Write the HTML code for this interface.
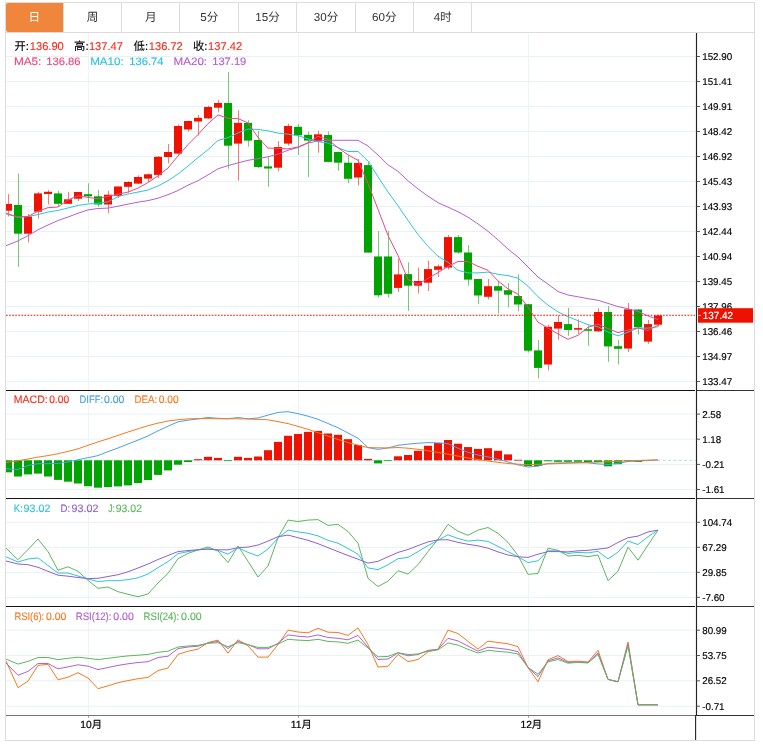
<!DOCTYPE html>
<html lang="zh"><head><meta charset="utf-8"><title>K线图</title>
<style>html,body{margin:0;padding:0;background:#fff}body{width:763px;height:754px;overflow:hidden;position:relative;font-family:"Liberation Sans","Noto Sans CJK SC",sans-serif}svg{position:absolute;left:0;top:0;display:block}text{font-family:"Liberation Sans","Noto Sans CJK SC",sans-serif;text-rendering:geometricPrecision}</style></head><body>
<svg width="763" height="754" viewBox="0 0 763 754">
<defs><clipPath id="cp"><rect x="6" y="33" width="690" height="683"/></clipPath></defs>
<rect x="5.5" y="2.5" width="749" height="738" fill="#fff" stroke="#dcdcdc" stroke-width="1"/>
<path d="M6 56.5H696M6 81.5H696M6 106.5H696M6 131.5H696M6 156.5H696M6 181.5H696M6 206.5H696M6 231.5H696M6 256.5H696M6 281.5H696M6 306.5H696M6 331.5H696M6 356.5H696M6 381.5H696M6 414.1H696M6 439.2H696M6 464.4H696M6 489.5H696M6 522.3H696M6 547.3H696M6 572.3H696M6 597.3H696M6 630.2H696M6 655.5H696M6 680.8H696M6 706.2H696" stroke="#e8f1f6" stroke-width="1" fill="none"/>
<path d="M88.5 33V715M298.5 33V715M528.5 33V715" stroke="#edf4f8" stroke-width="1" fill="none"/>
<path d="M5.5 32.5H754.5" stroke="#dcdcdc" stroke-width="1"/>
<path d="M8 3H63V32H8Q6 32 6 30V5Q6 3 8 3Z" fill="#f0863c"/>
<path d="M63.5 3V32M121.5 3V32M179.5 3V32M238.5 3V32M296.5 3V32M355.5 3V32M413.5 3V32M471.5 3V32" stroke="#dcdcdc" stroke-width="1"/>
<text x="34.2" y="21" font-size="11.6" text-anchor="middle" fill="#fff">日</text>
<text x="92.6" y="21" font-size="11.6" text-anchor="middle" fill="#333">周</text>
<text x="150.9" y="21" font-size="11.6" text-anchor="middle" fill="#333">月</text>
<text x="209.3" y="21" font-size="11.6" text-anchor="middle" fill="#333">5分</text>
<text x="267.6" y="21" font-size="11.6" text-anchor="middle" fill="#333">15分</text>
<text x="326.0" y="21" font-size="11.6" text-anchor="middle" fill="#333">30分</text>
<text x="384.3" y="21" font-size="11.6" text-anchor="middle" fill="#333">60分</text>
<text x="442.7" y="21" font-size="11.6" text-anchor="middle" fill="#333">4时</text>
<g clip-path="url(#cp)">
<path d="M8.5 194.0V216.5" stroke="#f01200" stroke-width="1" opacity="0.55"/>
<rect x="4.0" y="204.0" width="8" height="6.7" fill="#f01200"/>
<path d="M18.5 173.5V267.0" stroke="#00a400" stroke-width="1" opacity="0.55"/>
<rect x="14.0" y="205.0" width="8" height="28.7" fill="#00a400"/>
<path d="M28.5 214.0V242.5" stroke="#f01200" stroke-width="1" opacity="0.55"/>
<rect x="24.0" y="216.5" width="8" height="17.2" fill="#f01200"/>
<path d="M38.5 191.8V218.6" stroke="#f01200" stroke-width="1" opacity="0.55"/>
<rect x="34.0" y="193.4" width="8" height="18.3" fill="#f01200"/>
<path d="M48.5 190.0V204.5" stroke="#f01200" stroke-width="1" opacity="0.55"/>
<rect x="44.0" y="191.8" width="8" height="2.2" fill="#f01200"/>
<path d="M58.5 190.8V206.7" stroke="#00a400" stroke-width="1" opacity="0.55"/>
<rect x="54.0" y="193.4" width="8" height="10.4" fill="#00a400"/>
<path d="M68.5 191.8V203.8" stroke="#f01200" stroke-width="1" opacity="0.55"/>
<rect x="64.0" y="199.3" width="8" height="4.5" fill="#f01200"/>
<path d="M78.5 192.0V201.0" stroke="#f01200" stroke-width="1" opacity="0.55"/>
<rect x="74.0" y="192.0" width="8" height="6.7" fill="#f01200"/>
<path d="M88.5 183.3V202.4" stroke="#00a400" stroke-width="1" opacity="0.55"/>
<rect x="84.0" y="194.2" width="8" height="2.1" fill="#00a400"/>
<path d="M98.5 190.0V206.7" stroke="#00a400" stroke-width="1" opacity="0.55"/>
<rect x="94.0" y="196.3" width="8" height="8.2" fill="#00a400"/>
<path d="M108.5 190.8V213.3" stroke="#f01200" stroke-width="1" opacity="0.55"/>
<rect x="104.0" y="194.7" width="8" height="9.8" fill="#f01200"/>
<path d="M118.5 186.5V198.0" stroke="#f01200" stroke-width="1" opacity="0.55"/>
<rect x="114.0" y="186.5" width="8" height="9.3" fill="#f01200"/>
<path d="M128.5 181.2V192.6" stroke="#f01200" stroke-width="1" opacity="0.55"/>
<rect x="124.0" y="182.0" width="8" height="4.8" fill="#f01200"/>
<path d="M138.5 175.4V184.0" stroke="#f01200" stroke-width="1" opacity="0.55"/>
<rect x="134.0" y="177.0" width="8" height="6.6" fill="#f01200"/>
<path d="M148.5 173.5V182.0" stroke="#f01200" stroke-width="1" opacity="0.55"/>
<rect x="144.0" y="174.3" width="8" height="4.3" fill="#f01200"/>
<path d="M158.5 156.0V178.0" stroke="#f01200" stroke-width="1" opacity="0.55"/>
<rect x="154.0" y="156.8" width="8" height="18.1" fill="#f01200"/>
<path d="M168.5 144.0V163.4" stroke="#f01200" stroke-width="1" opacity="0.55"/>
<rect x="164.0" y="152.0" width="8" height="5.0" fill="#f01200"/>
<path d="M178.5 124.5V154.7" stroke="#f01200" stroke-width="1" opacity="0.55"/>
<rect x="174.0" y="126.0" width="8" height="27.6" fill="#f01200"/>
<path d="M188.5 120.5V131.6" stroke="#f01200" stroke-width="1" opacity="0.55"/>
<rect x="184.0" y="121.0" width="8" height="8.5" fill="#f01200"/>
<path d="M198.5 115.0V135.6" stroke="#f01200" stroke-width="1" opacity="0.55"/>
<rect x="194.0" y="117.8" width="8" height="3.7" fill="#f01200"/>
<path d="M208.5 105.6V119.0" stroke="#f01200" stroke-width="1" opacity="0.55"/>
<rect x="204.0" y="107.0" width="8" height="11.4" fill="#f01200"/>
<path d="M218.5 99.8V112.3" stroke="#f01200" stroke-width="1" opacity="0.55"/>
<rect x="214.0" y="103.0" width="8" height="4.7" fill="#f01200"/>
<path d="M228.5 72.0V168.8" stroke="#00a400" stroke-width="1" opacity="0.55"/>
<rect x="224.0" y="103.0" width="8" height="42.7" fill="#00a400"/>
<path d="M238.5 110.2V180.7" stroke="#f01200" stroke-width="1" opacity="0.55"/>
<rect x="234.0" y="122.9" width="8" height="20.7" fill="#f01200"/>
<path d="M248.5 120.2V146.7" stroke="#00a400" stroke-width="1" opacity="0.55"/>
<rect x="244.0" y="122.9" width="8" height="17.7" fill="#00a400"/>
<path d="M258.5 131.0V168.2" stroke="#00a400" stroke-width="1" opacity="0.55"/>
<rect x="254.0" y="140.0" width="8" height="27.0" fill="#00a400"/>
<path d="M268.5 156.8V186.8" stroke="#00a400" stroke-width="1" opacity="0.55"/>
<rect x="264.0" y="166.4" width="8" height="2.1" fill="#00a400"/>
<path d="M278.5 141.0V171.4" stroke="#f01200" stroke-width="1" opacity="0.55"/>
<rect x="274.0" y="147.0" width="8" height="20.7" fill="#f01200"/>
<path d="M288.5 123.7V145.7" stroke="#f01200" stroke-width="1" opacity="0.55"/>
<rect x="284.0" y="126.0" width="8" height="17.6" fill="#f01200"/>
<path d="M298.5 124.2V155.0" stroke="#00a400" stroke-width="1" opacity="0.55"/>
<rect x="294.0" y="126.8" width="8" height="8.5" fill="#00a400"/>
<path d="M308.5 131.6V177.2" stroke="#00a400" stroke-width="1" opacity="0.55"/>
<rect x="304.0" y="134.8" width="8" height="5.8" fill="#00a400"/>
<path d="M318.5 130.8V152.8" stroke="#f01200" stroke-width="1" opacity="0.55"/>
<rect x="314.0" y="134.3" width="8" height="7.1" fill="#f01200"/>
<path d="M328.5 131.6V162.4" stroke="#00a400" stroke-width="1" opacity="0.55"/>
<rect x="324.0" y="135.0" width="8" height="26.9" fill="#00a400"/>
<path d="M338.5 151.5V170.9" stroke="#00a400" stroke-width="1" opacity="0.55"/>
<rect x="334.0" y="152.0" width="8" height="10.7" fill="#00a400"/>
<path d="M348.5 155.5V183.3" stroke="#00a400" stroke-width="1" opacity="0.55"/>
<rect x="344.0" y="162.7" width="8" height="16.1" fill="#00a400"/>
<path d="M358.5 159.0V185.5" stroke="#f01200" stroke-width="1" opacity="0.55"/>
<rect x="354.0" y="163.0" width="8" height="14.5" fill="#f01200"/>
<path d="M368.5 161.5V252.6" stroke="#00a400" stroke-width="1" opacity="0.55"/>
<rect x="364.0" y="165.1" width="8" height="87.5" fill="#00a400"/>
<path d="M378.5 231.0V297.6" stroke="#00a400" stroke-width="1" opacity="0.55"/>
<rect x="374.0" y="256.5" width="8" height="38.8" fill="#00a400"/>
<path d="M388.5 231.0V297.6" stroke="#00a400" stroke-width="1" opacity="0.55"/>
<rect x="384.0" y="256.5" width="8" height="37.3" fill="#00a400"/>
<path d="M398.5 258.9V292.0" stroke="#f01200" stroke-width="1" opacity="0.55"/>
<rect x="394.0" y="274.4" width="8" height="13.5" fill="#f01200"/>
<path d="M408.5 262.3V310.9" stroke="#00a400" stroke-width="1" opacity="0.55"/>
<rect x="404.0" y="274.1" width="8" height="11.6" fill="#00a400"/>
<path d="M418.5 267.6V293.6" stroke="#f01200" stroke-width="1" opacity="0.55"/>
<rect x="414.0" y="281.0" width="8" height="4.7" fill="#f01200"/>
<path d="M428.5 260.5V291.0" stroke="#f01200" stroke-width="1" opacity="0.55"/>
<rect x="424.0" y="269.1" width="8" height="13.6" fill="#f01200"/>
<path d="M438.5 264.5V277.0" stroke="#f01200" stroke-width="1" opacity="0.55"/>
<rect x="434.0" y="266.3" width="8" height="3.5" fill="#f01200"/>
<path d="M448.5 235.0V269.5" stroke="#f01200" stroke-width="1" opacity="0.55"/>
<rect x="444.0" y="237.1" width="8" height="30.5" fill="#f01200"/>
<path d="M458.5 235.0V253.8" stroke="#00a400" stroke-width="1" opacity="0.55"/>
<rect x="454.0" y="237.1" width="8" height="15.4" fill="#00a400"/>
<path d="M468.5 245.0V285.7" stroke="#00a400" stroke-width="1" opacity="0.55"/>
<rect x="464.0" y="252.5" width="8" height="27.1" fill="#00a400"/>
<path d="M478.5 279.0V304.2" stroke="#00a400" stroke-width="1" opacity="0.55"/>
<rect x="474.0" y="279.0" width="8" height="16.5" fill="#00a400"/>
<path d="M488.5 279.0V299.5" stroke="#f01200" stroke-width="1" opacity="0.55"/>
<rect x="484.0" y="286.2" width="8" height="10.6" fill="#f01200"/>
<path d="M498.5 281.7V313.5" stroke="#00a400" stroke-width="1" opacity="0.55"/>
<rect x="494.0" y="286.2" width="8" height="4.5" fill="#00a400"/>
<path d="M508.5 283.0V307.4" stroke="#00a400" stroke-width="1" opacity="0.55"/>
<rect x="504.0" y="290.2" width="8" height="4.5" fill="#00a400"/>
<path d="M518.5 274.3V311.4" stroke="#00a400" stroke-width="1" opacity="0.55"/>
<rect x="514.0" y="296.0" width="8" height="8.5" fill="#00a400"/>
<path d="M528.5 304.2V352.5" stroke="#00a400" stroke-width="1" opacity="0.55"/>
<rect x="524.0" y="304.2" width="8" height="46.5" fill="#00a400"/>
<path d="M538.5 340.0V378.5" stroke="#00a400" stroke-width="1" opacity="0.55"/>
<rect x="534.0" y="350.4" width="8" height="17.5" fill="#00a400"/>
<path d="M548.5 324.7V370.3" stroke="#f01200" stroke-width="1" opacity="0.55"/>
<rect x="544.0" y="326.8" width="8" height="37.7" fill="#f01200"/>
<path d="M558.5 315.4V339.8" stroke="#f01200" stroke-width="1" opacity="0.55"/>
<rect x="554.0" y="322.0" width="8" height="6.6" fill="#f01200"/>
<path d="M568.5 308.0V335.8" stroke="#00a400" stroke-width="1" opacity="0.55"/>
<rect x="564.0" y="324.1" width="8" height="5.9" fill="#00a400"/>
<path d="M578.5 319.4V334.0" stroke="#f01200" stroke-width="1" opacity="0.55"/>
<rect x="574.0" y="328.1" width="8" height="1.6" fill="#f01200"/>
<path d="M588.5 325.2V345.9" stroke="#00a400" stroke-width="1" opacity="0.55"/>
<rect x="584.0" y="329.2" width="8" height="1.6" fill="#00a400"/>
<path d="M598.5 308.2V331.8" stroke="#f01200" stroke-width="1" opacity="0.55"/>
<rect x="594.0" y="312.0" width="8" height="19.3" fill="#f01200"/>
<path d="M608.5 306.0V361.8" stroke="#00a400" stroke-width="1" opacity="0.55"/>
<rect x="604.0" y="312.0" width="8" height="34.4" fill="#00a400"/>
<path d="M618.5 340.0V364.5" stroke="#00a400" stroke-width="1" opacity="0.55"/>
<rect x="614.0" y="346.2" width="8" height="2.6" fill="#00a400"/>
<path d="M628.5 303.0V352.0" stroke="#f01200" stroke-width="1" opacity="0.55"/>
<rect x="624.0" y="309.3" width="8" height="39.2" fill="#f01200"/>
<path d="M638.5 309.5V334.5" stroke="#00a400" stroke-width="1" opacity="0.55"/>
<rect x="634.0" y="309.5" width="8" height="17.8" fill="#00a400"/>
<path d="M648.5 320.0V343.8" stroke="#f01200" stroke-width="1" opacity="0.55"/>
<rect x="644.0" y="324.1" width="8" height="17.5" fill="#f01200"/>
<path d="M658.5 314.6V326.8" stroke="#f01200" stroke-width="1" opacity="0.55"/>
<rect x="654.0" y="315.4" width="8" height="9.3" fill="#f01200"/>
<polyline fill="none" stroke="#b460d2" stroke-width="1.0" stroke-linejoin="round" points="6.0,245.7 18.0,240.9 28.0,235.6 38.0,229.8 48.0,225.0 58.0,220.5 68.0,217.0 78.0,213.3 88.0,209.9 98.0,208.5 108.0,208.1 118.0,206.2 128.0,204.1 138.0,202.2 148.0,200.6 158.0,198.2 168.0,194.7 178.0,190.5 188.0,185.2 198.0,180.7 208.0,174.9 218.0,168.8 228.0,165.6 238.0,162.9 248.0,160.3 258.0,158.7 268.0,156.8 278.0,154.2 288.0,150.2 298.0,147.5 308.0,143.0 318.0,140.9 328.0,140.2 338.0,140.3 348.0,140.3 358.0,140.3 368.0,146.0 378.0,155.0 388.0,164.8 398.0,171.4 408.0,180.8 418.0,188.9 428.0,196.2 438.0,202.7 448.0,207.1 458.0,211.8 468.0,217.2 478.0,223.9 488.0,231.3 498.0,239.8 508.0,249.1 518.0,257.0 528.0,267.0 538.0,277.0 548.0,284.2 558.0,291.5 568.0,295.0 578.0,296.8 588.0,298.7 598.0,300.3 608.0,303.4 618.0,306.6 628.0,308.8 638.0,311.4 648.0,315.9 658.0,319.5"/>
<polyline fill="none" stroke="#30c4dc" stroke-width="1.0" stroke-linejoin="round" points="6.0,213.8 18.0,217.3 28.0,216.5 38.0,214.6 48.0,212.0 58.0,210.4 68.0,208.0 78.0,205.4 88.0,204.0 98.0,203.2 108.0,201.9 118.0,196.6 128.0,194.0 138.0,192.1 148.0,190.0 158.0,186.0 168.0,180.7 178.0,174.0 188.0,166.1 198.0,157.6 208.0,149.7 218.0,140.4 228.0,137.7 238.0,132.9 248.0,129.0 258.0,129.5 268.0,130.8 278.0,133.1 288.0,134.2 298.0,135.6 308.0,139.0 318.0,141.7 328.0,143.0 338.0,147.7 348.0,151.5 358.0,151.5 368.0,161.0 378.0,176.8 388.0,192.0 398.0,205.8 408.0,220.4 418.0,234.5 428.0,246.4 438.0,256.2 448.0,262.3 458.0,270.3 468.0,272.9 478.0,272.9 488.0,272.1 498.0,274.3 508.0,275.6 518.0,278.2 528.0,286.2 538.0,296.8 548.0,305.2 558.0,311.9 568.0,316.7 578.0,320.7 588.0,324.7 598.0,326.8 608.0,332.1 618.0,335.8 628.0,332.1 638.0,328.1 648.0,328.1 658.0,326.8"/>
<polyline fill="none" stroke="#f0487f" stroke-width="1.0" stroke-linejoin="round" points="6.0,213.3 18.0,217.0 28.0,216.5 38.0,211.2 48.0,207.7 58.0,207.0 68.0,200.0 78.0,195.8 88.0,197.4 98.0,198.7 108.0,196.3 118.0,194.2 128.0,192.1 138.0,188.1 148.0,182.5 158.0,175.9 168.0,168.0 178.0,156.0 188.0,144.6 198.0,134.6 208.0,123.7 218.0,114.9 228.0,118.3 238.0,118.6 248.0,122.9 258.0,137.4 268.0,148.1 278.0,148.3 288.0,148.9 298.0,147.0 308.0,142.7 318.0,136.3 328.0,139.5 338.0,147.7 348.0,154.9 358.0,160.3 368.0,183.5 378.0,209.3 388.0,235.5 398.0,255.5 408.0,279.6 418.0,284.4 428.0,278.4 438.0,272.6 448.0,266.3 458.0,261.5 468.0,261.5 478.0,266.3 488.0,270.3 498.0,280.9 508.0,288.9 518.0,294.2 528.0,307.0 538.0,322.2 548.0,328.0 558.0,334.0 568.0,339.3 578.0,335.3 588.0,327.3 598.0,324.1 608.0,328.6 618.0,332.6 628.0,330.0 638.0,327.9 648.0,330.5 658.0,325.2"/>
<path d="M6 315.3H695" stroke="#f01400" stroke-width="1.1" stroke-dasharray="1.7 1.37"/>
<path d="M6 460.3H696" stroke="#aad7f0" stroke-width="1" stroke-dasharray="2.5 2.8"/>
<rect x="4.0" y="460.3" width="8" height="12.0" fill="#00a400"/>
<rect x="14.0" y="460.3" width="8" height="16.2" fill="#00a400"/>
<rect x="24.0" y="460.3" width="8" height="14.1" fill="#00a400"/>
<rect x="34.0" y="460.3" width="8" height="13.3" fill="#00a400"/>
<rect x="44.0" y="460.3" width="8" height="16.2" fill="#00a400"/>
<rect x="54.0" y="460.3" width="8" height="19.6" fill="#00a400"/>
<rect x="64.0" y="460.3" width="8" height="21.4" fill="#00a400"/>
<rect x="74.0" y="460.3" width="8" height="23.2" fill="#00a400"/>
<rect x="84.0" y="460.3" width="8" height="25.9" fill="#00a400"/>
<rect x="94.0" y="460.3" width="8" height="27.4" fill="#00a400"/>
<rect x="104.0" y="460.3" width="8" height="26.7" fill="#00a400"/>
<rect x="114.0" y="460.3" width="8" height="26.1" fill="#00a400"/>
<rect x="124.0" y="460.3" width="8" height="25.1" fill="#00a400"/>
<rect x="134.0" y="460.3" width="8" height="22.7" fill="#00a400"/>
<rect x="144.0" y="460.3" width="8" height="19.8" fill="#00a400"/>
<rect x="154.0" y="460.3" width="8" height="14.6" fill="#00a400"/>
<rect x="164.0" y="460.3" width="8" height="10.1" fill="#00a400"/>
<rect x="174.0" y="460.3" width="8" height="4.4" fill="#00a400"/>
<rect x="184.0" y="460.3" width="8" height="1.7" fill="#00a400"/>
<rect x="194.0" y="459.2" width="8" height="1.1" fill="#f01200"/>
<rect x="204.0" y="456.8" width="8" height="3.5" fill="#f01200"/>
<rect x="214.0" y="457.9" width="8" height="2.4" fill="#f01200"/>
<rect x="224.0" y="460.3" width="8" height="0.8" fill="#00a400"/>
<rect x="234.0" y="456.8" width="8" height="3.5" fill="#f01200"/>
<rect x="244.0" y="457.9" width="8" height="2.4" fill="#f01200"/>
<rect x="254.0" y="456.5" width="8" height="3.8" fill="#f01200"/>
<rect x="264.0" y="450.2" width="8" height="10.1" fill="#f01200"/>
<rect x="274.0" y="441.9" width="8" height="18.4" fill="#f01200"/>
<rect x="284.0" y="435.8" width="8" height="24.5" fill="#f01200"/>
<rect x="294.0" y="434.0" width="8" height="26.3" fill="#f01200"/>
<rect x="304.0" y="431.9" width="8" height="28.4" fill="#f01200"/>
<rect x="314.0" y="430.9" width="8" height="29.4" fill="#f01200"/>
<rect x="324.0" y="433.5" width="8" height="26.8" fill="#f01200"/>
<rect x="334.0" y="434.8" width="8" height="25.5" fill="#f01200"/>
<rect x="344.0" y="439.2" width="8" height="21.1" fill="#f01200"/>
<rect x="354.0" y="445.0" width="8" height="15.3" fill="#f01200"/>
<rect x="364.0" y="458.9" width="8" height="1.4" fill="#f01200"/>
<rect x="374.0" y="460.3" width="8" height="3.1" fill="#00a400"/>
<rect x="384.0" y="460.3" width="8" height="0.8" fill="#00a400"/>
<rect x="394.0" y="456.3" width="8" height="4.0" fill="#f01200"/>
<rect x="404.0" y="455.0" width="8" height="5.3" fill="#f01200"/>
<rect x="414.0" y="450.8" width="8" height="9.5" fill="#f01200"/>
<rect x="424.0" y="445.8" width="8" height="14.5" fill="#f01200"/>
<rect x="434.0" y="442.9" width="8" height="17.4" fill="#f01200"/>
<rect x="444.0" y="440.0" width="8" height="20.3" fill="#f01200"/>
<rect x="454.0" y="443.7" width="8" height="16.6" fill="#f01200"/>
<rect x="464.0" y="447.1" width="8" height="13.2" fill="#f01200"/>
<rect x="474.0" y="448.9" width="8" height="11.4" fill="#f01200"/>
<rect x="484.0" y="448.2" width="8" height="12.1" fill="#f01200"/>
<rect x="494.0" y="450.8" width="8" height="9.5" fill="#f01200"/>
<rect x="504.0" y="454.4" width="8" height="5.9" fill="#f01200"/>
<rect x="514.0" y="459.8" width="8" height="0.8" fill="#f01200"/>
<rect x="524.0" y="460.3" width="8" height="5.7" fill="#00a400"/>
<rect x="534.0" y="460.3" width="8" height="5.7" fill="#00a400"/>
<rect x="544.0" y="460.3" width="8" height="1.0" fill="#00a400"/>
<rect x="554.0" y="460.3" width="8" height="1.5" fill="#00a400"/>
<rect x="564.0" y="460.3" width="8" height="1.5" fill="#00a400"/>
<rect x="574.0" y="460.3" width="8" height="1.5" fill="#00a400"/>
<rect x="584.0" y="460.3" width="8" height="1.7" fill="#00a400"/>
<rect x="594.0" y="460.3" width="8" height="1.7" fill="#00a400"/>
<rect x="604.0" y="460.3" width="8" height="6.0" fill="#00a400"/>
<rect x="614.0" y="460.3" width="8" height="3.9" fill="#00a400"/>
<rect x="624.0" y="460.3" width="8" height="0.8" fill="#00a400"/>
<rect x="634.0" y="460.3" width="8" height="1.7" fill="#00a400"/>
<polyline fill="none" stroke="#4aa0e8" stroke-width="1.0" stroke-linejoin="round" points="6.0,468.7 18.0,469.5 28.0,465.5 38.0,463.7 48.0,463.7 58.0,463.4 68.0,461.9 78.0,459.8 88.0,457.7 98.0,455.6 108.0,451.6 118.0,448.0 128.0,444.0 138.0,440.1 148.0,435.9 158.0,430.9 168.0,426.2 178.0,421.8 188.0,420.2 198.0,418.9 208.0,417.5 218.0,418.3 228.0,418.7 238.0,417.6 248.0,418.8 258.0,418.0 268.0,415.1 278.0,412.4 288.0,411.7 298.0,413.6 308.0,416.2 318.0,419.3 328.0,423.5 338.0,427.7 348.0,433.0 358.0,438.2 368.0,447.6 378.0,449.4 388.0,447.9 398.0,445.3 408.0,444.1 418.0,443.2 428.0,442.6 438.0,442.9 448.0,443.7 458.0,448.2 468.0,452.3 478.0,455.0 488.0,456.9 498.0,459.3 508.0,461.9 518.0,464.9 528.0,467.0 538.0,466.2 548.0,463.4 558.0,463.0 568.0,462.8 578.0,462.6 588.0,462.9 598.0,463.9 608.0,464.5 618.0,463.3 628.0,461.5 638.0,461.1 648.0,460.5 658.0,459.9"/>
<polyline fill="none" stroke="#f47a20" stroke-width="1.0" stroke-linejoin="round" points="6.0,462.4 18.0,460.8 28.0,459.0 38.0,457.1 48.0,455.6 58.0,453.7 68.0,451.4 78.0,448.8 88.0,445.3 98.0,441.9 108.0,438.8 118.0,435.4 128.0,432.0 138.0,428.8 148.0,425.7 158.0,423.1 168.0,421.0 178.0,419.7 188.0,418.9 198.0,418.6 208.0,418.6 218.0,418.8 228.0,418.8 238.0,418.8 248.0,419.0 258.0,419.4 268.0,419.8 278.0,421.6 288.0,423.6 298.0,426.4 308.0,429.3 318.0,432.7 328.0,436.1 338.0,439.4 348.0,442.6 358.0,445.1 368.0,447.6 378.0,447.8 388.0,448.0 398.0,447.5 408.0,448.2 418.0,449.3 428.0,450.7 438.0,452.4 448.0,454.2 458.0,456.1 468.0,457.9 478.0,459.5 488.0,461.0 498.0,462.3 508.0,463.5 518.0,464.2 528.0,464.7 538.0,464.3 548.0,463.9 558.0,463.6 568.0,463.2 578.0,462.9 588.0,462.4 598.0,462.1 608.0,461.8 618.0,461.3 628.0,460.8 638.0,460.5 648.0,460.2 658.0,459.9"/>
<polyline fill="none" stroke="#5cb85c" stroke-width="1.0" stroke-linejoin="round" points="6.0,548.2 18.0,559.7 28.0,549.5 38.0,539.0 48.0,551.6 58.0,570.2 68.0,566.8 78.0,571.3 88.0,580.4 98.0,588.3 108.0,587.0 118.0,591.7 128.0,594.3 138.0,596.7 148.0,594.0 158.0,583.0 168.0,573.4 178.0,558.7 188.0,553.4 198.0,550.0 208.0,546.9 218.0,551.0 228.0,562.6 238.0,546.0 248.0,561.3 258.0,577.0 268.0,566.0 278.0,537.7 288.0,520.1 298.0,521.5 308.0,520.1 318.0,519.6 328.0,525.4 338.0,524.3 348.0,531.4 358.0,543.2 368.0,578.3 378.0,586.5 388.0,581.2 398.0,570.7 408.0,574.1 418.0,564.7 428.0,551.6 438.0,539.3 448.0,524.3 458.0,531.2 468.0,535.3 478.0,530.1 488.0,527.5 498.0,533.3 508.0,542.4 518.0,555.5 528.0,574.4 538.0,573.4 548.0,548.2 558.0,550.3 568.0,556.0 578.0,555.3 588.0,556.6 598.0,555.0 608.0,580.7 618.0,571.3 628.0,547.1 638.0,560.2 648.0,545.0 658.0,530.1"/>
<polyline fill="none" stroke="#30c4dc" stroke-width="1.0" stroke-linejoin="round" points="6.0,556.8 18.0,562.0 28.0,559.0 38.0,557.9 48.0,565.5 58.0,573.0 68.0,573.0 78.0,576.0 88.0,579.0 98.0,581.5 108.0,580.7 118.0,580.7 128.0,579.6 138.0,577.8 148.0,574.0 158.0,567.6 168.0,561.6 178.0,553.7 188.0,551.6 198.0,549.8 208.0,548.7 218.0,550.3 228.0,554.2 238.0,547.7 248.0,552.4 258.0,556.0 268.0,549.0 278.0,538.0 288.0,530.1 298.0,531.9 308.0,533.3 318.0,535.9 328.0,540.3 338.0,543.2 348.0,548.5 358.0,554.2 368.0,567.9 378.0,569.7 388.0,564.7 398.0,558.7 408.0,557.4 418.0,551.6 428.0,545.6 438.0,540.3 448.0,534.8 458.0,538.5 468.0,541.1 478.0,540.1 488.0,541.4 498.0,546.4 508.0,551.6 518.0,556.8 528.0,562.6 538.0,560.8 548.0,550.8 558.0,550.8 568.0,553.4 578.0,552.4 588.0,552.9 598.0,551.3 608.0,558.9 618.0,552.1 628.0,541.1 638.0,544.5 648.0,536.7 658.0,530.1"/>
<polyline fill="none" stroke="#9060d0" stroke-width="1.0" stroke-linejoin="round" points="6.0,561.0 18.0,564.0 28.0,564.7 38.0,567.3 48.0,571.3 58.0,575.2 68.0,576.2 78.0,577.5 88.0,578.6 98.0,578.3 108.0,576.5 118.0,574.7 128.0,571.8 138.0,568.0 148.0,564.0 158.0,559.5 168.0,555.5 178.0,551.6 188.0,550.5 198.0,549.8 208.0,549.2 218.0,549.8 228.0,549.8 238.0,547.7 248.0,547.1 258.0,545.0 268.0,541.1 278.0,536.7 288.0,535.1 298.0,537.7 308.0,540.3 318.0,543.7 328.0,547.7 338.0,551.6 348.0,555.5 358.0,559.2 368.0,563.1 378.0,561.3 388.0,556.8 398.0,552.4 408.0,549.5 418.0,545.6 428.0,541.9 438.0,539.8 448.0,539.8 458.0,542.4 468.0,544.3 478.0,545.8 488.0,548.2 498.0,551.9 508.0,555.0 518.0,556.8 528.0,557.4 538.0,554.2 548.0,551.6 558.0,551.6 568.0,551.9 578.0,550.8 588.0,550.3 598.0,549.2 608.0,547.9 618.0,542.4 628.0,537.7 638.0,536.1 648.0,531.9 658.0,530.1"/>
<polyline fill="none" stroke="#f47a20" stroke-width="1.0" stroke-linejoin="round" points="6.0,660.9 18.0,687.7 28.0,681.1 38.0,665.4 48.0,664.3 58.0,679.8 68.0,677.2 78.0,672.7 88.0,678.0 98.0,688.7 108.0,685.8 118.0,682.7 128.0,680.6 138.0,678.7 148.0,677.4 158.0,670.6 168.0,668.0 178.0,654.4 188.0,651.2 198.0,649.1 208.0,642.5 218.0,640.1 228.0,653.2 238.0,639.8 248.0,645.9 258.0,657.1 268.0,657.1 278.0,644.6 288.0,630.1 298.0,632.0 308.0,632.8 318.0,628.3 328.0,632.2 338.0,632.5 348.0,635.4 358.0,627.8 368.0,644.6 378.0,667.1 388.0,666.2 398.0,654.5 408.0,661.6 418.0,659.5 428.0,651.9 438.0,649.3 448.0,630.1 458.0,633.6 468.0,641.4 478.0,649.0 488.0,641.2 498.0,642.5 508.0,643.8 518.0,646.7 528.0,667.6 538.0,681.8 548.0,659.8 558.0,655.6 568.0,661.6 578.0,661.1 588.0,662.0 598.0,650.3 608.0,679.4 618.0,681.8 628.0,642.0 638.0,704.8 648.0,704.8 658.0,704.8"/>
<polyline fill="none" stroke="#b460d2" stroke-width="1.0" stroke-linejoin="round" points="6.0,663.0 18.0,675.3 28.0,671.4 38.0,663.5 48.0,663.5 58.0,668.8 68.0,666.9 78.0,664.8 88.0,666.2 98.0,669.6 108.0,667.5 118.0,665.4 128.0,663.8 138.0,662.5 148.0,661.7 158.0,657.5 168.0,656.2 178.0,648.6 188.0,647.0 198.0,646.2 208.0,643.0 218.0,641.4 228.0,648.5 238.0,641.4 248.0,644.6 258.0,648.8 268.0,648.8 278.0,643.3 288.0,634.9 298.0,636.2 308.0,637.0 318.0,634.9 328.0,637.5 338.0,638.3 348.0,639.8 358.0,635.4 368.0,647.2 378.0,659.5 388.0,659.0 398.0,652.9 408.0,655.8 418.0,654.5 428.0,650.3 438.0,649.3 448.0,638.3 458.0,640.9 468.0,646.1 478.0,651.1 488.0,647.2 498.0,648.2 508.0,649.5 518.0,651.6 528.0,667.6 538.0,676.5 548.0,660.8 558.0,657.9 568.0,662.4 578.0,661.9 588.0,662.5 598.0,653.0 608.0,679.4 618.0,681.8 628.0,644.0 638.0,704.8 648.0,704.8 658.0,704.8"/>
<polyline fill="none" stroke="#5cb85c" stroke-width="1.0" stroke-linejoin="round" points="6.0,659.1 18.0,664.1 28.0,661.4 38.0,657.5 48.0,657.5 58.0,659.6 68.0,658.3 78.0,657.2 88.0,658.3 98.0,659.6 108.0,658.3 118.0,657.0 128.0,655.9 138.0,655.2 148.0,654.4 158.0,652.3 168.0,651.2 178.0,647.0 188.0,646.0 198.0,645.4 208.0,643.3 218.0,642.7 228.0,646.7 238.0,642.7 248.0,644.6 258.0,647.4 268.0,647.4 278.0,644.0 288.0,639.3 298.0,640.1 308.0,640.6 318.0,639.3 328.0,641.4 338.0,641.9 348.0,643.3 358.0,640.1 368.0,648.0 378.0,656.9 388.0,656.4 398.0,652.7 408.0,654.5 418.0,654.0 428.0,651.1 438.0,649.8 448.0,643.0 458.0,645.1 468.0,649.3 478.0,653.0 488.0,650.3 498.0,651.4 508.0,652.2 518.0,654.0 528.0,667.4 538.0,674.2 548.0,661.9 558.0,659.5 568.0,663.2 578.0,662.4 588.0,663.0 598.0,654.5 608.0,679.4 618.0,681.8 628.0,646.0 638.0,704.8 648.0,704.8 658.0,704.8"/>
</g>
<path d="M6 390.5H695M6 498.5H695M6 606.5H695" stroke="#111" stroke-width="1.15"/>
<path d="M697 390.5H754M697 498.5H754M697 606.5H754M696 715.5H754" stroke="#333" stroke-width="1"/>
<path d="M6 715.5H695" stroke="#777" stroke-width="1"/>
<path d="M696.5 33V715.5" stroke="#222" stroke-width="1.15"/>
<path d="M695.6 715V740" stroke="#222" stroke-width="1.1"/>
<path d="M696.5 56.5H700" stroke="#555" stroke-width="1"/>
<text x="702.2" y="60.0" font-size="9.9" fill="#000" stroke="#000" stroke-width="0.15" textLength="30.0" lengthAdjust="spacingAndGlyphs">152.90</text>
<path d="M696.5 81.5H700" stroke="#555" stroke-width="1"/>
<text x="702.2" y="85.0" font-size="9.9" fill="#000" stroke="#000" stroke-width="0.15" textLength="30.0" lengthAdjust="spacingAndGlyphs">151.41</text>
<path d="M696.5 106.5H700" stroke="#555" stroke-width="1"/>
<text x="702.2" y="110.0" font-size="9.9" fill="#000" stroke="#000" stroke-width="0.15" textLength="30.0" lengthAdjust="spacingAndGlyphs">149.91</text>
<path d="M696.5 131.5H700" stroke="#555" stroke-width="1"/>
<text x="702.2" y="135.0" font-size="9.9" fill="#000" stroke="#000" stroke-width="0.15" textLength="30.0" lengthAdjust="spacingAndGlyphs">148.42</text>
<path d="M696.5 156.5H700" stroke="#555" stroke-width="1"/>
<text x="702.2" y="160.0" font-size="9.9" fill="#000" stroke="#000" stroke-width="0.15" textLength="30.0" lengthAdjust="spacingAndGlyphs">146.92</text>
<path d="M696.5 181.5H700" stroke="#555" stroke-width="1"/>
<text x="702.2" y="185.0" font-size="9.9" fill="#000" stroke="#000" stroke-width="0.15" textLength="30.0" lengthAdjust="spacingAndGlyphs">145.43</text>
<path d="M696.5 206.5H700" stroke="#555" stroke-width="1"/>
<text x="702.2" y="210.0" font-size="9.9" fill="#000" stroke="#000" stroke-width="0.15" textLength="30.0" lengthAdjust="spacingAndGlyphs">143.93</text>
<path d="M696.5 231.5H700" stroke="#555" stroke-width="1"/>
<text x="702.2" y="235.0" font-size="9.9" fill="#000" stroke="#000" stroke-width="0.15" textLength="30.0" lengthAdjust="spacingAndGlyphs">142.44</text>
<path d="M696.5 256.5H700" stroke="#555" stroke-width="1"/>
<text x="702.2" y="260.0" font-size="9.9" fill="#000" stroke="#000" stroke-width="0.15" textLength="30.0" lengthAdjust="spacingAndGlyphs">140.94</text>
<path d="M696.5 281.5H700" stroke="#555" stroke-width="1"/>
<text x="702.2" y="285.0" font-size="9.9" fill="#000" stroke="#000" stroke-width="0.15" textLength="30.0" lengthAdjust="spacingAndGlyphs">139.45</text>
<path d="M696.5 306.5H700" stroke="#555" stroke-width="1"/>
<text x="702.2" y="310.0" font-size="9.9" fill="#000" stroke="#000" stroke-width="0.15" textLength="30.0" lengthAdjust="spacingAndGlyphs">137.96</text>
<path d="M696.5 331.5H700" stroke="#555" stroke-width="1"/>
<text x="702.2" y="335.0" font-size="9.9" fill="#000" stroke="#000" stroke-width="0.15" textLength="30.0" lengthAdjust="spacingAndGlyphs">136.46</text>
<path d="M696.5 356.5H700" stroke="#555" stroke-width="1"/>
<text x="702.2" y="360.0" font-size="9.9" fill="#000" stroke="#000" stroke-width="0.15" textLength="30.0" lengthAdjust="spacingAndGlyphs">134.97</text>
<path d="M696.5 381.5H700" stroke="#555" stroke-width="1"/>
<text x="702.2" y="385.0" font-size="9.9" fill="#000" stroke="#000" stroke-width="0.15" textLength="30.0" lengthAdjust="spacingAndGlyphs">133.47</text>
<path d="M696.5 414.1H700" stroke="#555" stroke-width="1"/>
<text x="702.2" y="417.6" font-size="9.9" fill="#000" stroke="#000" stroke-width="0.15" textLength="19.1" lengthAdjust="spacingAndGlyphs">2.58</text>
<path d="M696.5 439.2H700" stroke="#555" stroke-width="1"/>
<text x="702.2" y="442.7" font-size="9.9" fill="#000" stroke="#000" stroke-width="0.15" textLength="19.1" lengthAdjust="spacingAndGlyphs">1.18</text>
<path d="M696.5 464.4H700" stroke="#555" stroke-width="1"/>
<text x="702.2" y="467.9" font-size="9.9" fill="#000" stroke="#000" stroke-width="0.15" textLength="22.4" lengthAdjust="spacingAndGlyphs">-0.21</text>
<path d="M696.5 489.5H700" stroke="#555" stroke-width="1"/>
<text x="702.2" y="493.0" font-size="9.9" fill="#000" stroke="#000" stroke-width="0.15" textLength="22.4" lengthAdjust="spacingAndGlyphs">-1.61</text>
<path d="M696.5 522.3H700" stroke="#555" stroke-width="1"/>
<text x="702.2" y="525.8" font-size="9.9" fill="#000" stroke="#000" stroke-width="0.15" textLength="30.0" lengthAdjust="spacingAndGlyphs">104.74</text>
<path d="M696.5 547.3H700" stroke="#555" stroke-width="1"/>
<text x="702.2" y="550.8" font-size="9.9" fill="#000" stroke="#000" stroke-width="0.15" textLength="24.5" lengthAdjust="spacingAndGlyphs">67.29</text>
<path d="M696.5 572.3H700" stroke="#555" stroke-width="1"/>
<text x="702.2" y="575.8" font-size="9.9" fill="#000" stroke="#000" stroke-width="0.15" textLength="24.5" lengthAdjust="spacingAndGlyphs">29.85</text>
<path d="M696.5 597.3H700" stroke="#555" stroke-width="1"/>
<text x="702.2" y="600.8" font-size="9.9" fill="#000" stroke="#000" stroke-width="0.15" textLength="22.4" lengthAdjust="spacingAndGlyphs">-7.60</text>
<path d="M696.5 630.2H700" stroke="#555" stroke-width="1"/>
<text x="702.2" y="633.7" font-size="9.9" fill="#000" stroke="#000" stroke-width="0.15" textLength="24.5" lengthAdjust="spacingAndGlyphs">80.99</text>
<path d="M696.5 655.5H700" stroke="#555" stroke-width="1"/>
<text x="702.2" y="659.0" font-size="9.9" fill="#000" stroke="#000" stroke-width="0.15" textLength="24.5" lengthAdjust="spacingAndGlyphs">53.75</text>
<path d="M696.5 680.8H700" stroke="#555" stroke-width="1"/>
<text x="702.2" y="684.3" font-size="9.9" fill="#000" stroke="#000" stroke-width="0.15" textLength="24.5" lengthAdjust="spacingAndGlyphs">26.52</text>
<path d="M696.5 706.2H700" stroke="#555" stroke-width="1"/>
<text x="702.2" y="709.7" font-size="9.9" fill="#000" stroke="#000" stroke-width="0.15" textLength="22.4" lengthAdjust="spacingAndGlyphs">-0.71</text>
<rect x="698" y="308.2" width="55" height="14.5" fill="#ee1100"/>
<path d="M698.5 315.4H701" stroke="#fbb" stroke-width="1"/>
<text x="702.8" y="319" font-size="10.3" fill="#fff" stroke="#fff" stroke-width="0.2" textLength="30.2" lengthAdjust="spacingAndGlyphs">137.42</text>
<path d="M88.5 716V717.8" stroke="#999" stroke-width="1"/>
<text x="91.2" y="728.3" font-size="10.3" text-anchor="middle" fill="#000" stroke="#000" stroke-width="0.2">10月</text>
<path d="M298.5 716V717.8" stroke="#999" stroke-width="1"/>
<text x="301.3" y="728.3" font-size="10.3" text-anchor="middle" fill="#000" stroke="#000" stroke-width="0.2">11月</text>
<path d="M528.5 716V717.8" stroke="#999" stroke-width="1"/>
<text x="531.3" y="728.3" font-size="10.3" text-anchor="middle" fill="#000" stroke="#000" stroke-width="0.2">12月</text>
<text x="14.5" y="49.6" font-size="11.3" fill="#000" stroke="#000" stroke-width="0.15">开:</text>
<text x="29.8" y="49.6" font-size="11.3" fill="#f5301f" stroke="#f5301f" stroke-width="0.15" textLength="34.0" lengthAdjust="spacingAndGlyphs">136.90</text>
<text x="74.1" y="49.6" font-size="11.3" fill="#000" stroke="#000" stroke-width="0.15">高:</text>
<text x="88.9" y="49.6" font-size="11.3" fill="#f5301f" stroke="#f5301f" stroke-width="0.15" textLength="34.0" lengthAdjust="spacingAndGlyphs">137.47</text>
<text x="133.6" y="49.6" font-size="11.3" fill="#000" stroke="#000" stroke-width="0.15">低:</text>
<text x="148.8" y="49.6" font-size="11.3" fill="#f5301f" stroke="#f5301f" stroke-width="0.15" textLength="34.0" lengthAdjust="spacingAndGlyphs">136.72</text>
<text x="192.9" y="49.6" font-size="11.3" fill="#000" stroke="#000" stroke-width="0.15">收:</text>
<text x="208.1" y="49.6" font-size="11.3" fill="#f5301f" stroke="#f5301f" stroke-width="0.15" textLength="34.0" lengthAdjust="spacingAndGlyphs">137.42</text>
<text x="13.9" y="64.6" font-size="10.8" fill="#f0487f" stroke="#f0487f" stroke-width="0.15" textLength="27.5" lengthAdjust="spacingAndGlyphs">MA5:</text>
<text x="46.199999999999996" y="64.6" font-size="10.8" fill="#f0487f" stroke="#f0487f" stroke-width="0.15" textLength="34.4" lengthAdjust="spacingAndGlyphs">136.86</text>
<text x="90.2" y="64.6" font-size="10.8" fill="#30c4dc" stroke="#30c4dc" stroke-width="0.15" textLength="33.5" lengthAdjust="spacingAndGlyphs">MA10:</text>
<text x="129.3" y="64.6" font-size="10.8" fill="#30c4dc" stroke="#30c4dc" stroke-width="0.15" textLength="34.2" lengthAdjust="spacingAndGlyphs">136.74</text>
<text x="173.6" y="64.6" font-size="10.8" fill="#b460d2" stroke="#b460d2" stroke-width="0.15" textLength="33.5" lengthAdjust="spacingAndGlyphs">MA20:</text>
<text x="212.20000000000002" y="64.6" font-size="10.8" fill="#b460d2" stroke="#b460d2" stroke-width="0.15" textLength="34.1" lengthAdjust="spacingAndGlyphs">137.19</text>
<text x="13.8" y="402.7" font-size="10.8" fill="#f5301f" stroke="#f5301f" stroke-width="0.15" textLength="33.9" lengthAdjust="spacingAndGlyphs">MACD:</text>
<text x="49.199999999999996" y="402.7" font-size="10.8" fill="#f5301f" stroke="#f5301f" stroke-width="0.15" textLength="19.9" lengthAdjust="spacingAndGlyphs">0.00</text>
<text x="79.60000000000001" y="402.7" font-size="10.8" fill="#4aa0e8" stroke="#4aa0e8" stroke-width="0.15" textLength="23.4" lengthAdjust="spacingAndGlyphs">DIFF:</text>
<text x="104.0" y="402.7" font-size="10.8" fill="#4aa0e8" stroke="#4aa0e8" stroke-width="0.15" textLength="20.4" lengthAdjust="spacingAndGlyphs">0.00</text>
<text x="134.6" y="402.7" font-size="10.8" fill="#f47a20" stroke="#f47a20" stroke-width="0.15" textLength="22.7" lengthAdjust="spacingAndGlyphs">DEA:</text>
<text x="158.8" y="402.7" font-size="10.8" fill="#f47a20" stroke="#f47a20" stroke-width="0.15" textLength="19.8" lengthAdjust="spacingAndGlyphs">0.00</text>
<text x="13.8" y="511.7" font-size="10.8" fill="#30c4dc" stroke="#30c4dc" stroke-width="0.15" textLength="9.0" lengthAdjust="spacingAndGlyphs">K:</text>
<text x="23.599999999999998" y="511.7" font-size="10.8" fill="#30c4dc" stroke="#30c4dc" stroke-width="0.15" textLength="26.8" lengthAdjust="spacingAndGlyphs">93.02</text>
<text x="60.4" y="511.7" font-size="10.8" fill="#9060d0" stroke="#9060d0" stroke-width="0.15" textLength="9.7" lengthAdjust="spacingAndGlyphs">D:</text>
<text x="71.60000000000001" y="511.7" font-size="10.8" fill="#9060d0" stroke="#9060d0" stroke-width="0.15" textLength="26.9" lengthAdjust="spacingAndGlyphs">93.02</text>
<text x="108.2" y="511.7" font-size="10.8" fill="#5cb85c" stroke="#5cb85c" stroke-width="0.15" textLength="6.7" lengthAdjust="spacingAndGlyphs">J:</text>
<text x="115.7" y="511.7" font-size="10.8" fill="#5cb85c" stroke="#5cb85c" stroke-width="0.15" textLength="26.3" lengthAdjust="spacingAndGlyphs">93.02</text>
<text x="14.4" y="619.5" font-size="10.8" fill="#f47a20" stroke="#f47a20" stroke-width="0.15" textLength="29.8" lengthAdjust="spacingAndGlyphs">RSI(6):</text>
<text x="46.1" y="619.5" font-size="10.8" fill="#f47a20" stroke="#f47a20" stroke-width="0.15" textLength="20.2" lengthAdjust="spacingAndGlyphs">0.00</text>
<text x="75.80000000000001" y="619.5" font-size="10.8" fill="#b460d2" stroke="#b460d2" stroke-width="0.15" textLength="35.6" lengthAdjust="spacingAndGlyphs">RSI(12):</text>
<text x="113.30000000000001" y="619.5" font-size="10.8" fill="#b460d2" stroke="#b460d2" stroke-width="0.15" textLength="20.5" lengthAdjust="spacingAndGlyphs">0.00</text>
<text x="143.6" y="619.5" font-size="10.8" fill="#5cb85c" stroke="#5cb85c" stroke-width="0.15" textLength="35.6" lengthAdjust="spacingAndGlyphs">RSI(24):</text>
<text x="181.1" y="619.5" font-size="10.8" fill="#5cb85c" stroke="#5cb85c" stroke-width="0.15" textLength="20.5" lengthAdjust="spacingAndGlyphs">0.00</text>
</svg></body></html>
